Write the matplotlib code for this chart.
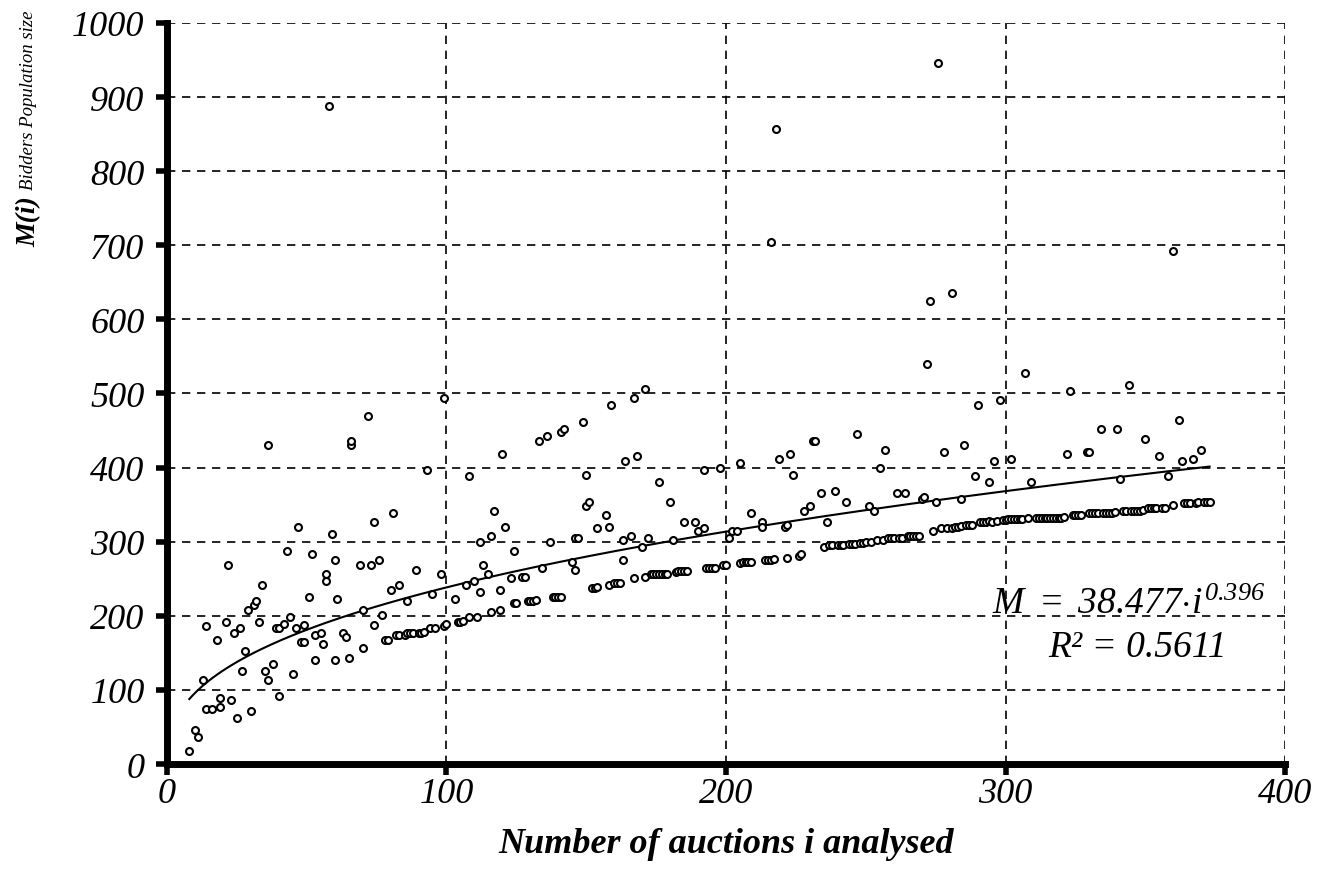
import numpy as np
import matplotlib.pyplot as plt

plt.rcParams['font.family'] = ['Liberation Serif', 'DejaVu Serif']
plt.rcParams['mathtext.fontset'] = 'custom'
plt.rcParams['mathtext.rm'] = 'Liberation Serif:italic'
plt.rcParams['mathtext.it'] = 'Liberation Serif:italic'

# auction index i and bidders population M(i)
i_vals = [8, 10, 11, 13, 14, 14, 16, 18, 19, 19, 21, 22, 23, 24, 25, 26, 27, 28, 29, 30,
          31, 32, 33, 34, 35, 36, 36, 38, 39, 40, 40, 42, 43, 44, 45, 46, 47, 48, 49, 49,
          51, 52, 53, 53, 55, 56, 57, 57, 58, 59, 60, 60,
          61, 63, 64, 65, 66, 66, 69, 70, 70, 72, 73, 74, 74, 76, 77, 78, 79, 80,
          81, 82, 83, 83, 85, 86, 86, 87, 88, 89, 90, 91, 92, 93, 94, 95, 96, 98, 99, 99,
          100, 103, 104, 105, 106, 107, 108, 108, 110, 111, 112, 112, 113, 115, 116, 116, 117, 119, 119,
          120, 121, 123, 124, 124, 125, 127, 128, 129, 130, 131, 132, 133, 134, 136, 137, 138, 139, 140,
          141, 141, 142, 145, 146, 146, 147, 149, 150, 150, 151, 152, 153, 154, 154, 157, 158, 158, 159,
          160, 161, 162, 163, 163, 164, 166, 167, 167, 168, 170, 171, 171, 172, 173, 174, 175, 176, 176,
          177, 178, 179, 180, 181, 182, 183, 184, 185, 185, 186, 189, 190, 192, 192, 193, 194, 195, 196,
          198, 199, 200, 201, 202, 204, 205, 205, 206, 207, 208, 209, 209, 213, 213, 214, 215, 216, 216,
          217, 218, 219, 221, 222, 222, 223, 224, 226, 227, 228, 230, 231, 232, 234, 235, 236,
          237, 238, 239, 240, 241, 242, 243, 244, 245, 246, 247, 248, 249, 250, 251, 252, 253, 254, 255,
          256, 257, 258, 259, 260, 261, 262, 263, 264, 265, 266, 267, 268, 269, 270, 271, 272, 273, 274,
          275, 276, 277, 278, 279, 281, 281, 282, 283, 284, 284, 285, 286, 287, 288, 289, 290, 291, 292,
          293, 294, 294, 295, 296, 297, 298, 299, 300, 301, 302, 302, 303, 304, 305, 306, 307, 308, 309,
          311, 312, 313, 314, 315, 316, 317, 318, 319, 320, 321, 322, 323, 324, 325, 326, 327, 329, 330,
          330, 331, 332, 333, 334, 335, 336, 337, 338, 339, 340, 341, 342, 343, 344, 345, 346, 347, 348,
          349, 350, 351, 352, 353, 354, 355, 356, 357, 358, 360, 360, 362, 363, 364, 365, 366, 367, 368,
          369, 370, 371, 372, 373]
m_vals = [18, 46, 37, 113, 186, 74, 74, 168, 89, 77, 192, 268, 86, 177, 62, 184, 125, 153, 208, 71,
          214, 220, 192, 241, 125, 113, 430, 135, 184, 92, 184, 189, 287, 199, 122, 184, 320, 165, 165, 187,
          226, 284, 174, 141, 177, 162, 247, 256, 888, 311, 275, 141,
          223, 177, 171, 143, 430, 436, 268, 156, 208, 470, 268, 327, 187, 275, 201, 168, 168, 235,
          339, 174, 174, 241, 174, 220, 177, 177, 177, 262, 177, 177, 178, 397, 183, 229, 183, 256, 186, 494,
          189, 223, 192, 192, 193, 241, 388, 199, 247, 199, 232, 299, 268, 256, 205, 308, 342, 235, 208,
          418, 320, 251, 217, 287, 217, 253, 253, 220, 220, 220, 221, 436, 265, 442, 299, 226, 226, 226,
          226, 448, 452, 272, 305, 262, 305, 461, 348, 390, 354, 238, 238, 239, 318, 336, 320, 241, 485,
          244, 244, 244, 302, 275, 409, 308, 494, 251, 415, 293, 253, 506, 305, 256, 256, 256, 381, 256,
          256, 256, 257, 354, 302, 259, 260, 260, 327, 261, 261, 327, 314, 397, 318, 265, 265, 265, 265,
          400, 268, 268, 305, 314, 314, 406, 271, 272, 272, 272, 339, 273, 327, 320, 275, 275, 275, 704,
          276, 857, 412, 320, 278, 323, 418, 390, 281, 284, 342, 348, 436, 436, 366, 293, 327,
          295, 295, 369, 296, 296, 296, 354, 297, 297, 297, 445, 298, 298, 299, 348, 299, 342, 302, 400,
          302, 424, 305, 305, 305, 366, 305, 305, 366, 308, 308, 308, 308, 308, 357, 360, 540, 625, 314,
          354, 946, 318, 421, 318, 318, 636, 320, 320, 357, 321, 430, 322, 322, 323, 388, 485, 327, 327,
          327, 381, 328, 327, 409, 328, 491, 329, 329, 330, 412, 330, 330, 330, 330, 330, 528, 332, 381,
          332, 332, 332, 332, 332, 332, 332, 332, 332, 332, 333, 418, 503, 336, 336, 336, 336, 421, 421,
          339, 339, 339, 339, 452, 339, 339, 339, 339, 340, 452, 384, 342, 342, 512, 342, 342, 342, 342,
          343, 439, 345, 345, 345, 345, 415, 346, 346, 388, 349, 692, 464, 409, 352, 352, 352, 412, 352,
          353, 424, 354, 354, 354]

# power trendline shown on the chart
coef_a = 38.477
coef_b = 0.396
fit_start, fit_end = 8, 373

fig = plt.figure(figsize=(13.27, 8.87), dpi=100)
ax = fig.add_axes([0.1258, 0.1375, 0.8426, 0.8355])

ii = np.linspace(fit_start, fit_end, 400)
ax.plot(ii, coef_a * ii ** coef_b, color='black', lw=1.5, zorder=2)
ax.plot(i_vals, m_vals, 'o', ms=5, mfc='white', mec='black', mew=1.5, ls='none', zorder=3)

ax.set_xlim(0, 400)
ax.set_ylim(0, 1000)
ax.set_xticks(range(0, 401, 100))
ax.set_yticks(range(0, 1001, 100))
ax.grid(True, color='black', ls=(0, (5, 4)), lw=1.2)
ax.set_axisbelow(True)
for s in ['top', 'right']:
    ax.spines[s].set_visible(False)
for s in ['left', 'bottom']:
    ax.spines[s].set_linewidth(5)
ax.tick_params(direction='out', length=8, width=4, labelsize=26)
ax.tick_params(axis='y', pad=8)
ax.tick_params(axis='x', pad=1)
for lab in ax.get_xticklabels() + ax.get_yticklabels():
    lab.set_fontstyle('italic')

ax.text(393, 216, r'$M\ =\ 38.477{\cdot}i^{0.396}$', fontsize=27, ha='right', va='center')
ax.text(379, 158, 'R² = 0.5611', fontsize=27, style='italic', ha='right', va='center')

fig.text(726 / 1327, 1 - 845 / 887, 'Number of auctions i analysed', fontsize=26,
         style='italic', weight='bold', ha='center', va='center')
fig.text(29 / 1327, 1 - 222 / 887, 'M(i)', fontsize=20, style='italic', weight='bold',
         rotation=90, ha='center', va='center')
fig.text(29 / 1327, 1 - 100 / 887, 'Bidders Population size', fontsize=13.5, style='italic',
         rotation=90, ha='center', va='center')

fig.savefig('out.png', dpi=100)
